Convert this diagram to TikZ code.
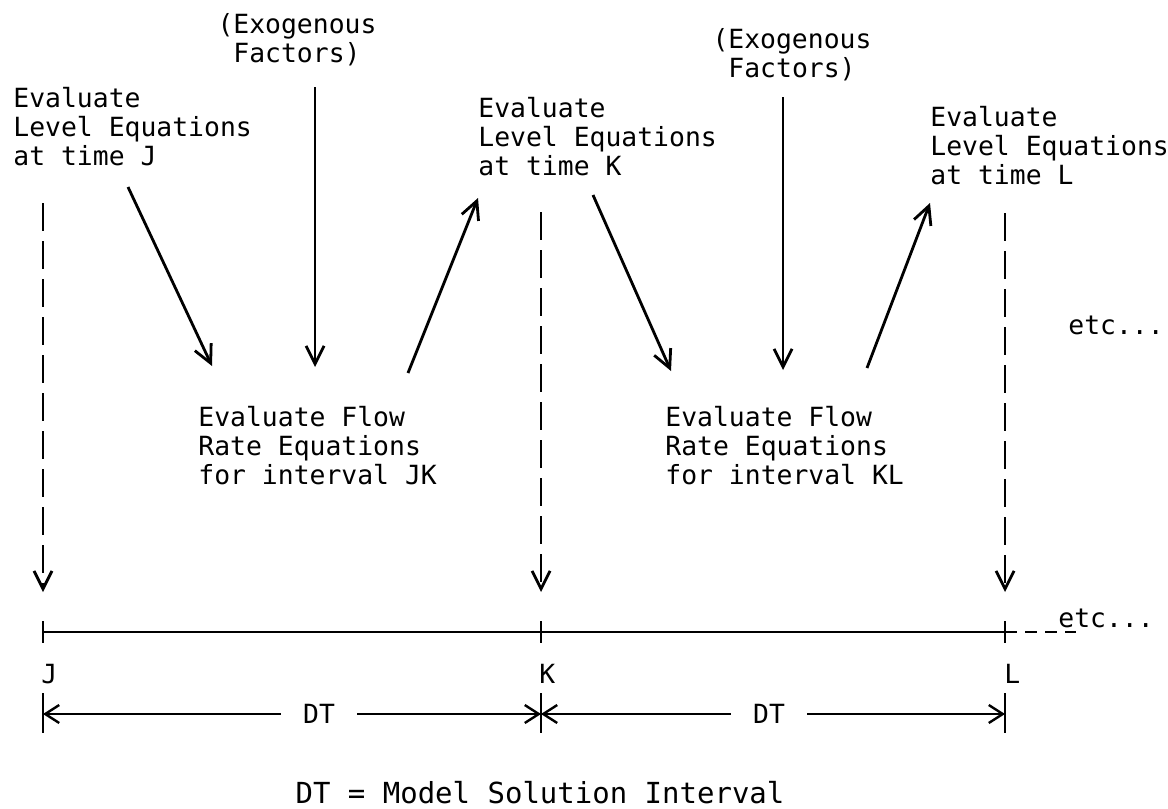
\documentclass[tikz,border=0pt]{standalone}
\usepackage{fontspec}
\usepackage{tikz}
\usetikzlibrary{arrows.meta, positioning}
\newfontfamily\typew{DejaVu Sans Mono}

\begin{document}
\begin{tikzpicture}[
    x=0.5pt, y=-0.5pt,
    %% ── Text styles ───────────────────────────────────────────
    note/.style={
        inner sep=0pt, align=left,
        font=\typew\fontsize{13.2}{14.5}\selectfont
    },
    exo/.style={note, align=center},
    ticklabel/.style={
        inner sep=0pt,
        font=\typew\fontsize{13.2}{14.5}\selectfont
    },
    caption/.style={
        inner sep=0pt,
        font=\typew\fontsize{14.5}{16}\selectfont
    },
    %% ── Line styles ───────────────────────────────────────────
    arrow/.style={line width=1.4pt, -{Straight Barb[length=9pt,width=9pt]}},
    steparrow/.style={arrow, dash pattern=on 14pt off 5pt},
    axis/.style={line width=1.3pt},
    dimline/.style={line width=1.2pt, -{Straight Barb[length=7pt,width=9pt]}}
]
\useasboundingbox (0,0) rectangle (1168,809);

%% ── Text blocks ────────────────────────────────────────────────
\node (lvlJ)  [note, anchor=north west] at (13,87)   {Evaluate\\Level Equations\\at time J};
\node (lvlK)  [note, anchor=north west] at (478,97)  {Evaluate\\Level Equations\\at time K};
\node (lvlL)  [note, anchor=north west] at (930,106) {Evaluate\\Level Equations\\at time L};
\node (exo1)  [exo,  anchor=north]      at (297,13)  {(Exogenous\\Factors)};
\node (exo2)  [exo,  anchor=north]      at (792,28)  {(Exogenous\\Factors)};
\node (rate1) [note, anchor=north west] at (198,406) {Evaluate Flow\\Rate Equations\\for interval JK};
\node (rate2) [note, anchor=north west] at (665,406) {Evaluate Flow\\Rate Equations\\for interval KL};
\node (etc1)  [note, anchor=west]       at (1068,325) {etc...};

%% ── Arrow end points ───────────────────────────────────────────
\coordinate (a1s) at (128,187);  \coordinate (a1e) at (212,366);
\coordinate (e1s) at (315,87);   \coordinate (e1e) at (315,367);
\coordinate (a2s) at (408,373);  \coordinate (a2e) at (478,198);
\coordinate (a3s) at (593,195);  \coordinate (a3e) at (671,371);
\coordinate (e2s) at (783,97);   \coordinate (e2e) at (783,370);
\coordinate (a4s) at (867,368);  \coordinate (a4e) at (930,203);

\draw [arrow] (a1s) -- (a1e);
\draw [arrow] (e1s) -- (e1e);
\draw [arrow] (a2s) -- (a2e);
\draw [arrow] (a3s) -- (a3e);
\draw [arrow] (e2s) -- (e2e);
\draw [arrow] (a4s) -- (a4e);

%% ── Time axis ──────────────────────────────────────────────────
\coordinate (tJ)   at (43,632);
\coordinate (tK)   at (541,632);
\coordinate (tL)   at (1005,632);
\coordinate (tEnd) at (1076,632);
\coordinate (topJ) at (43,203);
\coordinate (topK) at (541,212);
\coordinate (topL) at (1005,213);
\coordinate (endJ) at (43,592);
\coordinate (endK) at (541,592);
\coordinate (endL) at (1005,592);

\draw [steparrow] (topJ) -- (endJ);
\draw [steparrow] (topK) -- (endK);
\draw [steparrow] (topL) -- (endL);

\draw [axis] (tJ) -- (tL);
\draw [axis, dash pattern=on 6pt off 4pt] (tL) -- (tEnd);
\foreach \t in {tJ, tK, tL}
    \draw [axis] ([yshift=5.5]\t) -- ([yshift=-5.5]\t);
\node (etc2) [note, anchor=base west] at (1058,627) {etc...};

\node (labJ) [ticklabel, anchor=base west] at (41,683)   {J};
\node (labK) [ticklabel, anchor=base west] at (539,683)  {K};
\node (labL) [ticklabel, anchor=base west] at (1004,683) {L};

%% ── DT spans ───────────────────────────────────────────────────
\coordinate (dJ) at (43,714);
\coordinate (dK) at (541,714);
\coordinate (dL) at (1005,714);
\foreach \t in {dJ, dK, dL}
    \draw [axis] ([yshift=10.5]\t) -- ([yshift=-9.5]\t);

\node (dt1) [ticklabel, inner xsep=11pt] at (319,714) {DT};
\node (dt2) [ticklabel, inner xsep=11pt] at (769,714) {DT};
\draw [dimline] (dt1.west) -- (dJ);
\draw [dimline] (dt1.east) -- (dK);
\draw [dimline] (dt2.west) -- (dK);
\draw [dimline] (dt2.east) -- (dL);

\node (dtdef) [caption, anchor=base] at (540,803) {DT = Model Solution Interval};

\end{tikzpicture}
\end{document}
